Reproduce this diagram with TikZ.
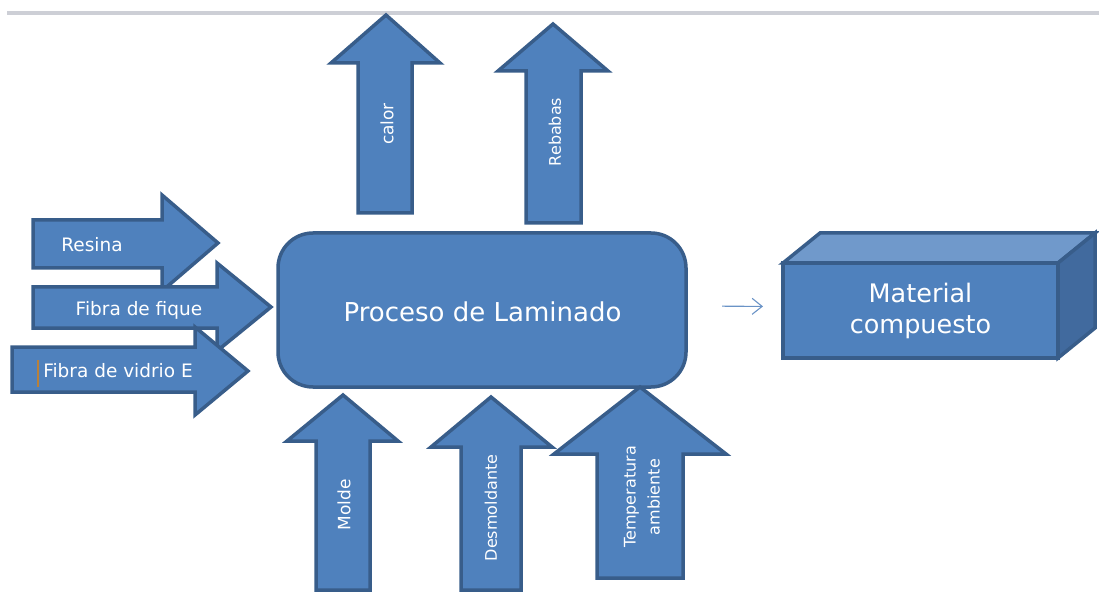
\documentclass[tikz,border=0pt]{standalone}
\usepackage{fontspec}
\setmainfont{DejaVu Sans}
\usetikzlibrary{arrows.meta}
\definecolor{blockfill}{HTML}{4F81BD}
\definecolor{blockline}{HTML}{385D8A}
\definecolor{cubetop}{HTML}{7099CB}
\definecolor{cubeside}{HTML}{416A9E}
\definecolor{rulegray}{HTML}{CDCFD6}
\definecolor{flowblue}{HTML}{6A93C6}
\definecolor{cursorc}{HTML}{B8803A}
\begin{document}
\begin{tikzpicture}[x=1pt,y=-1pt,
    blk/.style={fill=blockfill, draw=blockline, line width=3.5pt, line join=miter},
    lbl/.style={text=white, inner sep=0pt},
    flow/.style={draw=flowblue, line width=1.1pt, -{Straight Barb[length=10pt,width=16pt]}}]
        \useasboundingbox (0,0) rectangle (1099,593);
        \draw[rulegray, line width=4pt] (7,13) -- (1099,13);
        % salidas
        \draw[blk] (358,213) -- (358,63) -- (331,63) -- (386,15) -- (440,63) -- (412,63) -- (412,213) -- cycle;
        \node[lbl, rotate=90, font=\fontsize{17}{20}\selectfont] (calor) at (387,124) {calor};
        \draw[blk] (526,223) -- (526,71) -- (498,71) -- (553,24) -- (608,71) -- (581,71) -- (581,223) -- cycle;
        \node[lbl, rotate=90, font=\fontsize{16}{19}\selectfont] (rebabas) at (555,132) {Rebabas};
        % entradas
        \draw[blk] (33,220) -- (162,220) -- (162,195) -- (218,243) -- (162,291) -- (162,268) -- (33,268) -- cycle;
        \node[lbl, font=\fontsize{18.5}{22}\selectfont] (resina) at (92,245) {Resina};
        \draw[blk] (33,287) -- (217,287) -- (217,263) -- (271,307) -- (217,351) -- (217,328) -- (33,328) -- cycle;
        \node[lbl, font=\fontsize{18.5}{22}\selectfont] (fique) at (139,310) {Fibra de fique};
        \draw[blk] (12,347) -- (195,347) -- (195,327) -- (248,371) -- (195,415) -- (195,392) -- (12,392) -- cycle;
        \node[lbl, font=\fontsize{18.5}{22}\selectfont] (vidrio) at (118,371) {Fibra de vidrio E};
        \draw[cursorc, line width=1.5pt] (38,360) -- (38,387);
        % proceso
        \node[blk, rounded corners=35pt, minimum width=408pt, minimum height=154pt, outer sep=0pt] (proc) at (482,310) {};
        \node[lbl, font=\fontsize{26}{30}\selectfont, anchor=base] (proctxt) at (482.5,321) {Proceso de Laminado};
        % otras entradas
        \draw[blk] (316,590) -- (316,441) -- (287,441) -- (343,395) -- (398,441) -- (370,441) -- (370,590) -- cycle;
        \node[lbl, rotate=90, font=\fontsize{17}{20}\selectfont] (molde) at (344,505) {Molde};
        \draw[blk] (461,590) -- (461,447) -- (431,447) -- (491,397) -- (552,447) -- (521,447) -- (521,590) -- cycle;
        \node[lbl, rotate=90, font=\fontsize{16}{19}\selectfont] (desm) at (491,508) {Desmoldante};
        \draw[blk] (597,578) -- (597,454) -- (554,454) -- (640,387) -- (726,454) -- (683,454) -- (683,578) -- cycle;
        \node[lbl, rotate=90, align=center, font=\fontsize{16}{24}\selectfont] (temp) at (642,497) {Temperatura\\ambiente};
        % producto
        \node[blk, minimum width=275pt, minimum height=95pt, outer sep=0pt, align=center, text=white,
            font=\fontsize{25.5}{31}\selectfont, inner sep=0pt] (mat) at (920.5,310.5) {Material\\compuesto};
        \draw[blk, fill=cubetop] (mat.north west) -- ++(37,-30) -- ++(275,0) -- (mat.north east) -- cycle;
        \draw[blk, fill=cubeside] (mat.north east) -- ++(37,-30) -- ++(0,95) -- (mat.south east) -- cycle;
        \draw[flow, shorten <=36pt, shorten >=20pt] ([yshift=4pt]proc.east) -- ([yshift=4pt]mat.west);
    \end{tikzpicture}
\end{document}
